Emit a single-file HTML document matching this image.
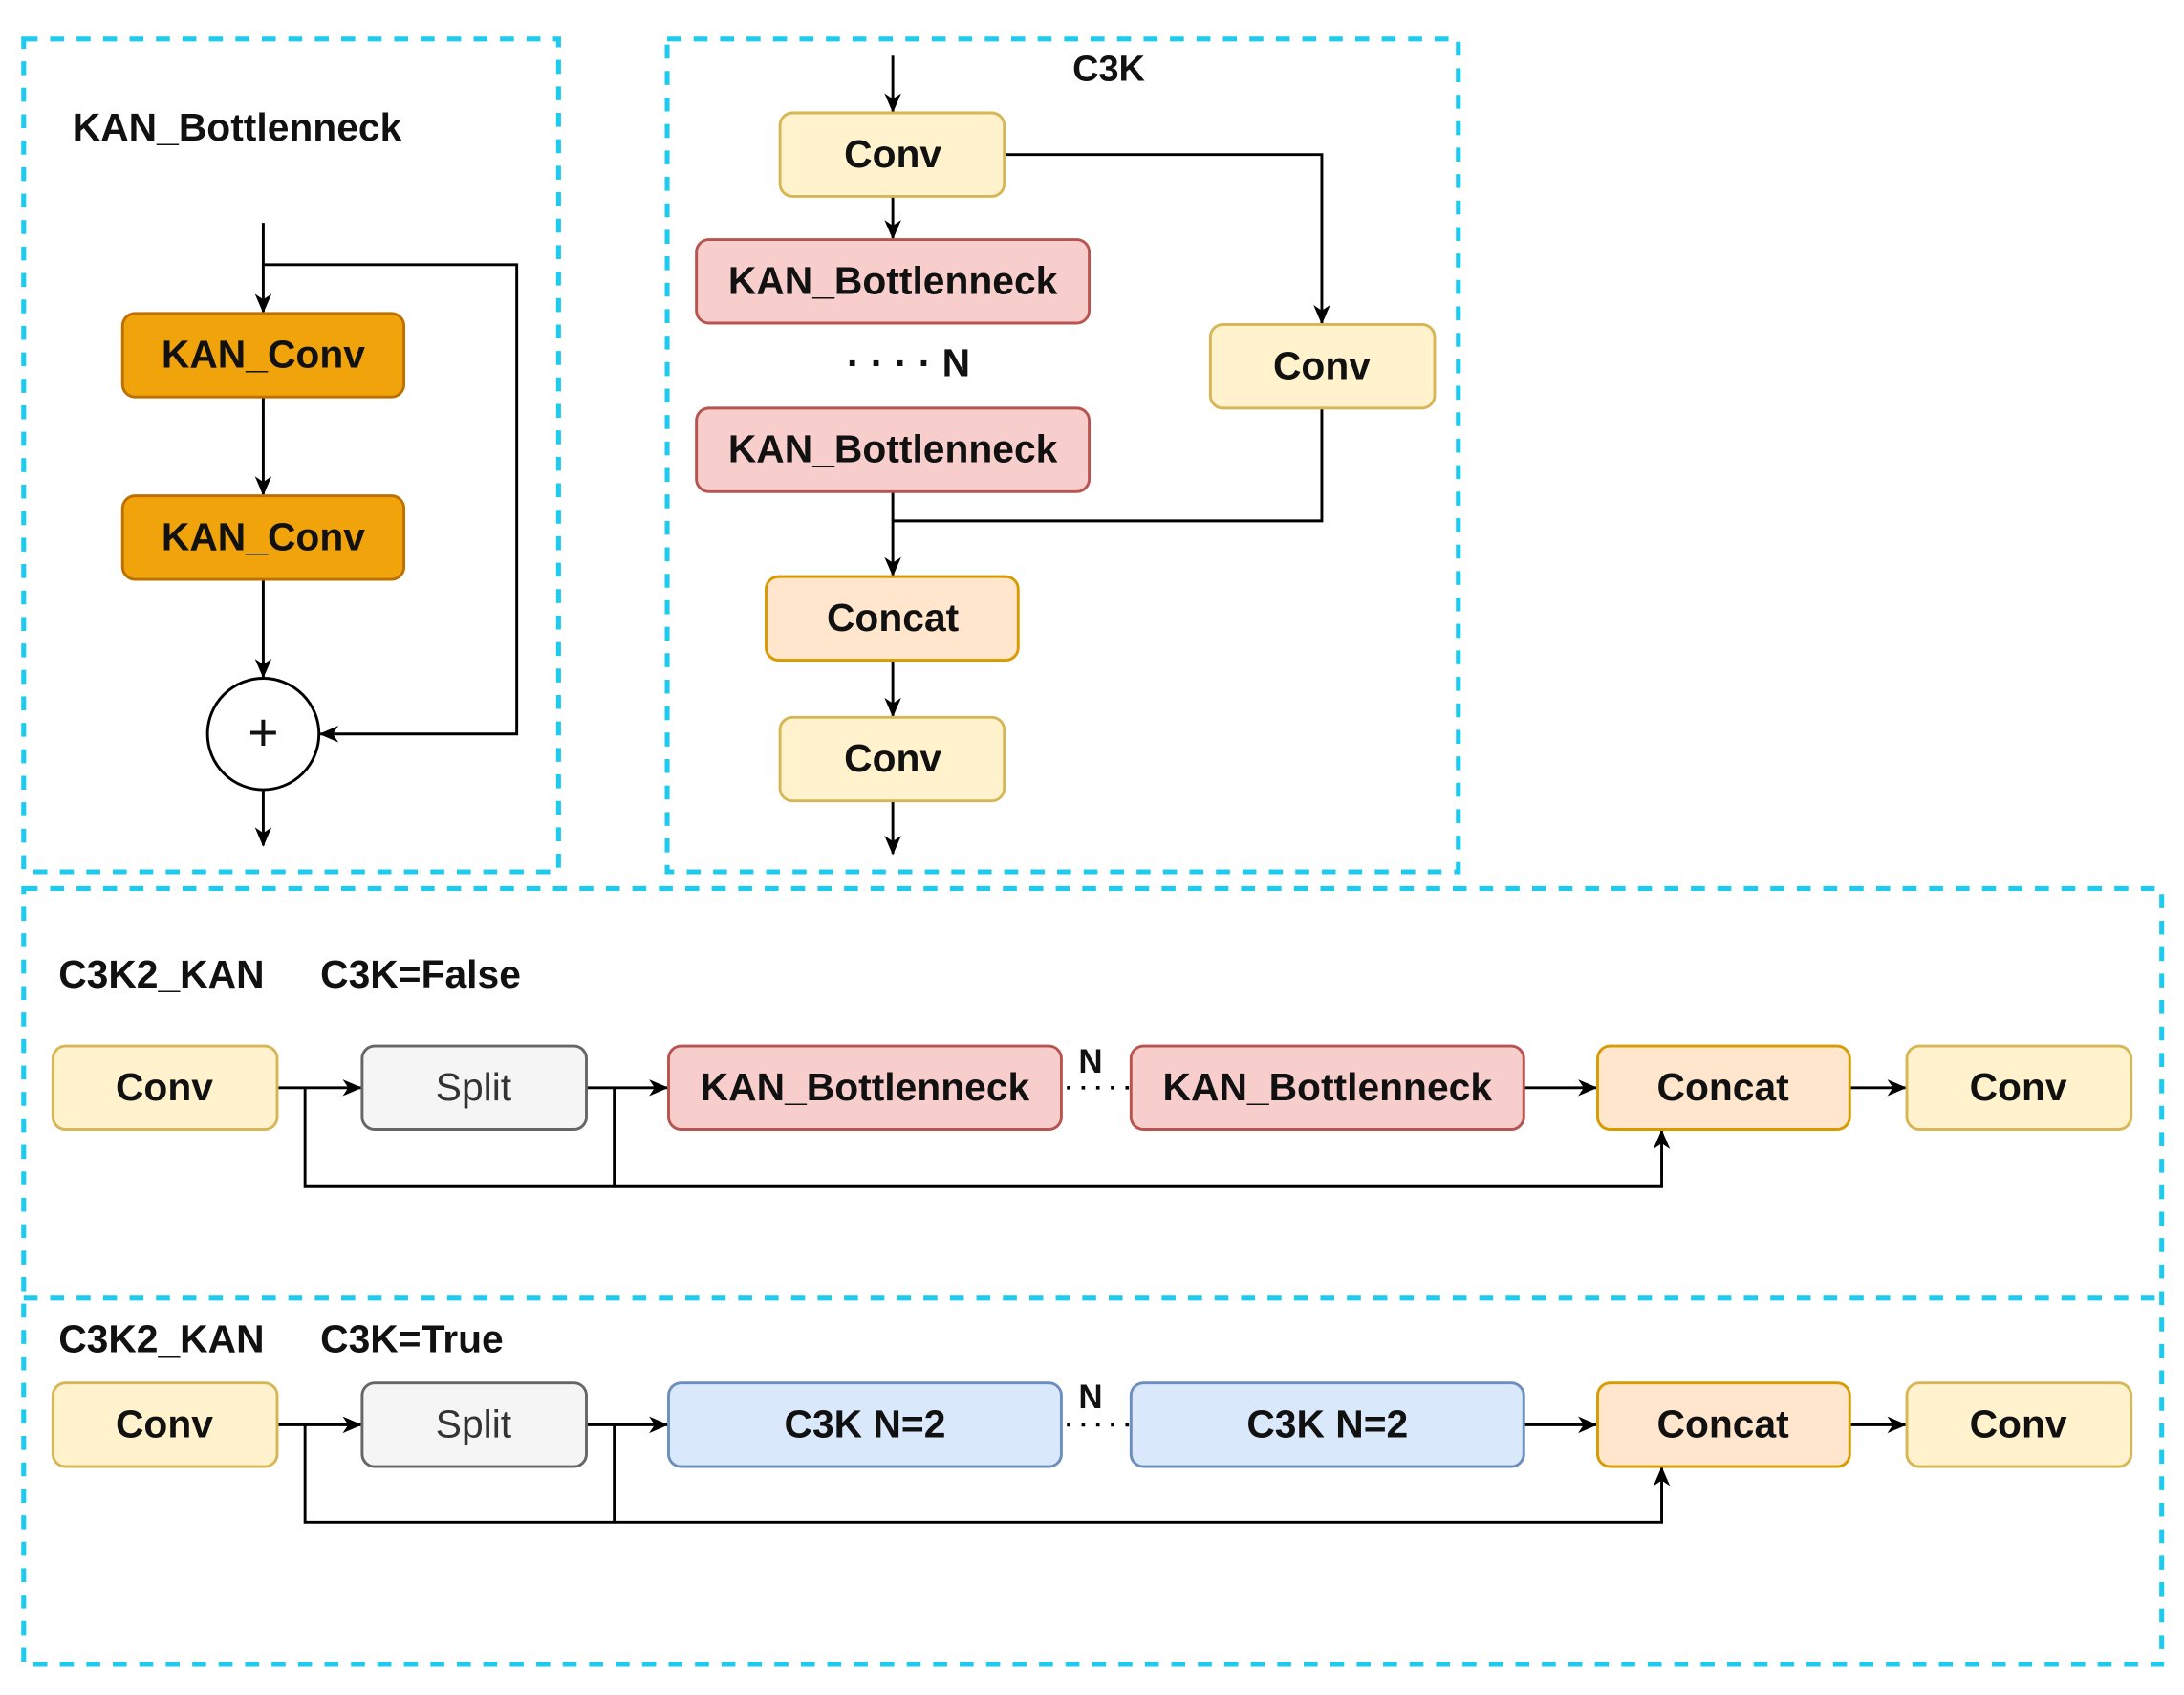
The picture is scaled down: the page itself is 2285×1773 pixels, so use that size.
<!DOCTYPE html>
<html><head><meta charset="utf-8"><style>
html,body{margin:0;padding:0;background:#fff;}
svg{display:block;}
text{font-family:"Liberation Sans",Arial,sans-serif;font-weight:bold;font-size:28px;fill:#111;}
</style></head><body>
<svg width="2285" height="1773" viewBox="0 0 1568 1217" preserveAspectRatio="none" xmlns="http://www.w3.org/2000/svg">
<defs>
<marker id="a" markerWidth="14" markerHeight="14" refX="13" refY="7" orient="auto" markerUnits="userSpaceOnUse">
<path d="M0,1 L14,7 L0,13 L4,7 z" fill="#000"/>
</marker>
</defs>
<g fill="none" stroke="#1ecbee" stroke-width="3.5" stroke-dasharray="10,9">
<rect x="17" y="28" width="384" height="598"/>
<rect x="479" y="28" width="568" height="598"/>
<rect x="17" y="638" width="1535" height="557"/>
<line x1="17" y1="932" x2="1552" y2="932"/>
</g>
<g stroke="#000" stroke-width="2" fill="none">
<line x1="189" y1="160" x2="189" y2="224" marker-end="url(#a)"/>
<polyline points="189,190 371,190 371,527 230,527" marker-end="url(#a)"/>
<line x1="189" y1="285" x2="189" y2="355" marker-end="url(#a)"/>
<line x1="189" y1="416" x2="189" y2="486" marker-end="url(#a)"/>
<line x1="189" y1="567" x2="189" y2="607" marker-end="url(#a)"/>
<line x1="641" y1="40" x2="641" y2="80" marker-end="url(#a)"/>
<line x1="641" y1="141" x2="641" y2="171" marker-end="url(#a)"/>
<polyline points="721,111 949,111 949,232" marker-end="url(#a)"/>
<polyline points="949,293 949,374 641,374"/>
<line x1="641" y1="353" x2="641" y2="413" marker-end="url(#a)"/>
<line x1="641" y1="474" x2="641" y2="514" marker-end="url(#a)"/>
<line x1="641" y1="575" x2="641" y2="613" marker-end="url(#a)"/>
<line x1="199" y1="781" x2="259" y2="781" marker-end="url(#a)"/>
<line x1="421" y1="781" x2="479" y2="781" marker-end="url(#a)"/>
<line x1="1094" y1="781" x2="1146" y2="781" marker-end="url(#a)"/>
<line x1="1328" y1="781" x2="1368" y2="781" marker-end="url(#a)"/>
<polyline points="219,781 219,852 1193,852 1193,812" marker-end="url(#a)"/>
<line x1="441" y1="781" x2="441" y2="852"/>
<line x1="199" y1="1023" x2="259" y2="1023" marker-end="url(#a)"/>
<line x1="421" y1="1023" x2="479" y2="1023" marker-end="url(#a)"/>
<line x1="1094" y1="1023" x2="1146" y2="1023" marker-end="url(#a)"/>
<line x1="1328" y1="1023" x2="1368" y2="1023" marker-end="url(#a)"/>
<polyline points="219,1023 219,1093 1193,1093 1193,1054" marker-end="url(#a)"/>
<line x1="441" y1="1023" x2="441" y2="1093"/>
</g>
<g stroke-width="2.5" stroke-dasharray="2.5,8" stroke="#000">
<line x1="766" y1="781" x2="812" y2="781"/>
<line x1="766" y1="1023" x2="812" y2="1023"/>
</g>
<g stroke-width="2">
<rect x="88" y="225" width="202" height="60" rx="9" fill="#f0a30a" stroke="#bd7000"/>
<rect x="88" y="356" width="202" height="60" rx="9" fill="#f0a30a" stroke="#bd7000"/>
<circle cx="189" cy="527" r="40" fill="#fff" stroke="#000"/>
<rect x="560" y="81" width="161" height="60" rx="9" fill="#fff2cc" stroke="#d6b656"/>
<rect x="500" y="172" width="282" height="60" rx="9" fill="#f8cecc" stroke="#b85450"/>
<rect x="500" y="293" width="282" height="60" rx="9" fill="#f8cecc" stroke="#b85450"/>
<rect x="869" y="233" width="161" height="60" rx="9" fill="#fff2cc" stroke="#d6b656"/>
<rect x="550" y="414" width="181" height="60" rx="9" fill="#ffe6cc" stroke="#d79b00"/>
<rect x="560" y="515" width="161" height="60" rx="9" fill="#fff2cc" stroke="#d6b656"/>
<rect x="38" y="751" width="161" height="60" rx="9" fill="#fff2cc" stroke="#d6b656"/>
<rect x="260" y="751" width="161" height="60" rx="9" fill="#f5f5f5" stroke="#666"/>
<rect x="480" y="751" width="282" height="60" rx="9" fill="#f8cecc" stroke="#b85450"/>
<rect x="812" y="751" width="282" height="60" rx="9" fill="#f8cecc" stroke="#b85450"/>
<rect x="1147" y="751" width="181" height="60" rx="9" fill="#ffe6cc" stroke="#d79b00"/>
<rect x="1369" y="751" width="161" height="60" rx="9" fill="#fff2cc" stroke="#d6b656"/>
<rect x="38" y="993" width="161" height="60" rx="9" fill="#fff2cc" stroke="#d6b656"/>
<rect x="260" y="993" width="161" height="60" rx="9" fill="#f5f5f5" stroke="#666"/>
<rect x="480" y="993" width="282" height="60" rx="9" fill="#dae8fc" stroke="#6c8ebf"/>
<rect x="812" y="993" width="282" height="60" rx="9" fill="#dae8fc" stroke="#6c8ebf"/>
<rect x="1147" y="993" width="181" height="60" rx="9" fill="#ffe6cc" stroke="#d79b00"/>
<rect x="1369" y="993" width="161" height="60" rx="9" fill="#fff2cc" stroke="#d6b656"/>
</g>
<g text-anchor="middle">
<text x="189" y="264">KAN_Conv</text>
<text x="189" y="395">KAN_Conv</text>
<text x="189" y="539" style="font-weight:normal;font-size:38px">+</text>
<text x="641" y="120">Conv</text>
<text x="641" y="211">KAN_Bottlenneck</text>
<text x="641" y="332">KAN_Bottlenneck</text>
<text x="949" y="272">Conv</text>
<text x="641" y="453">Concat</text>
<text x="641" y="554">Conv</text>
<text x="118" y="790">Conv</text>
<text x="340" y="790" style="font-weight:normal;fill:#333">Split</text>
<text x="621" y="790">KAN_Bottlenneck</text>
<text x="953" y="790">KAN_Bottlenneck</text>
<text x="1237" y="790">Concat</text>
<text x="1449" y="790">Conv</text>
<text x="118" y="1032">Conv</text>
<text x="340" y="1032" style="font-weight:normal;fill:#333">Split</text>
<text x="621" y="1032">C3K N=2</text>
<text x="953" y="1032">C3K N=2</text>
<text x="1237" y="1032">Concat</text>
<text x="1449" y="1032">Conv</text>
<text x="783" y="770" style="font-size:24px">N</text>
<text x="783" y="1011" style="font-size:24px">N</text>
</g>
<text x="52" y="101">KAN_Bottlenneck</text>
<text x="770" y="58" style="font-size:26px">C3K</text>
<text x="608" y="270">· · · ·  N</text>
<text x="42" y="709">C3K2_KAN</text>
<text x="230" y="709">C3K=False</text>
<text x="42" y="971">C3K2_KAN</text>
<text x="230" y="971">C3K=True</text>
</svg>
</body></html>
